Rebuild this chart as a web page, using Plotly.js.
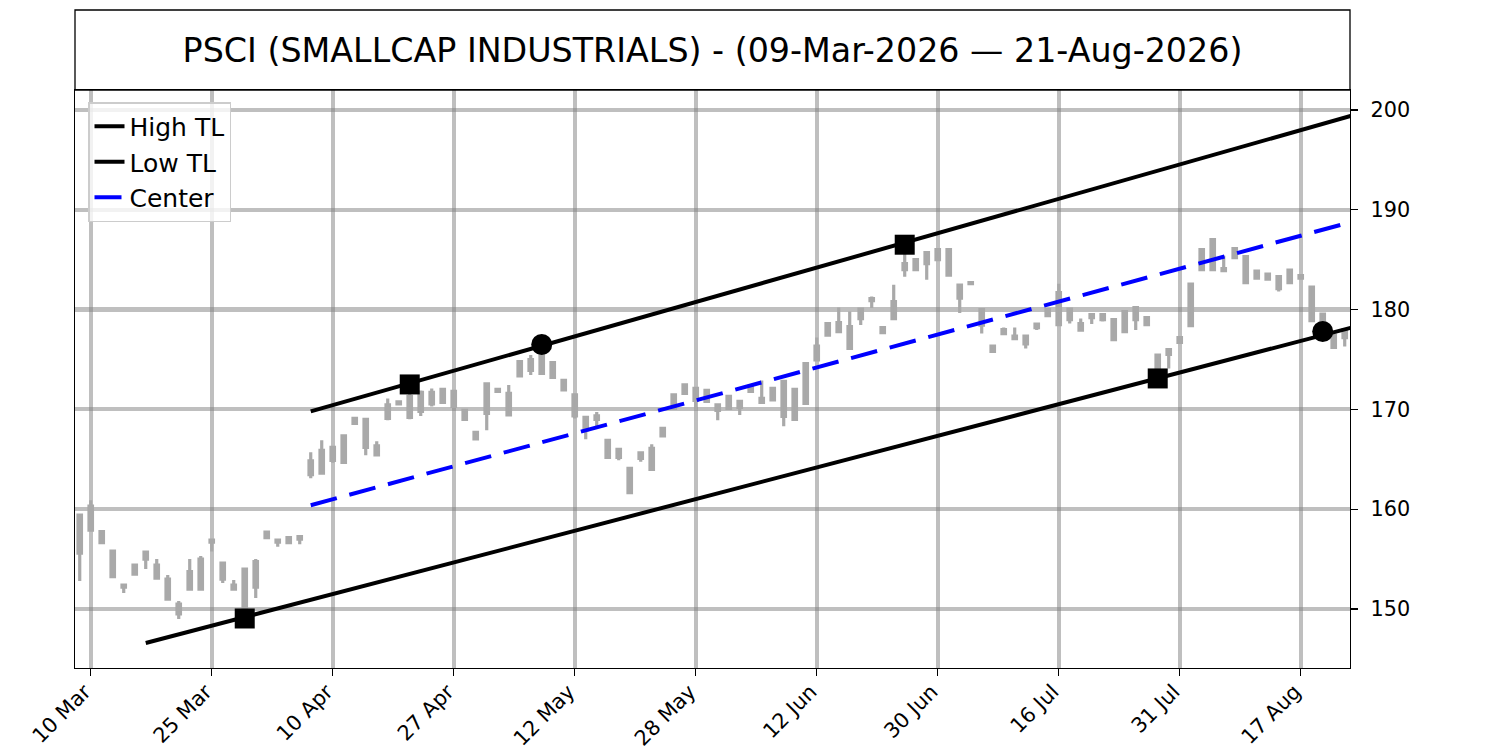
<!DOCTYPE html>
<html>
<head>
<meta charset="utf-8">
<script src="https://cdn.plot.ly/plotly-3.0.1.min.js"></script>
<style>
  html, body { margin: 0; padding: 0; background: #ffffff; }
  #chart { width: 1500px; height: 750px; }
</style>
</head>
<body>
<div id="chart"></div>
<script>
// ---- Data ----
// Trading-day index 0..115 (09-Mar-2026 .. 21-Aug-2026)
const openVals = [159.4,157.9,157.75,155.8,152.4,153.5,155.0,154.4,153.0,150.5,152.0,152.0,156.7,154.6,152.4,154.0,152.2,157.15,156.9,156.65,157.0,
  163.45,163.6,164.9,164.7,168.6,169.0,166.35,169.1,170.55,171.3,169.8,170.55,170.7,171.8,169.9,167.7,169.6,171.8,171.6,
  173.35,173.9,173.6,174.7,172.9,171.45,169.2,169.0,166.9,166.0,164.1,165.1,166.1,167.35,170.1,171.6,172.1,171.9,170.45,170.1,
  170.8,171.8,171.1,170.95,172.8,172.0,170.6,174.95,177.45,177.8,178.3,179.1,180.9,178.2,179.1,184.0,184.0,184.6,185.0,186.0,
  182.45,182.6,180.0,176.35,177.6,177.35,177.35,178.2,179.4,178.5,180.05,178.6,179.2,179.5,179.0,177.8,179.0,179.2,175.45,175.5,
  176.7,178.4,184.0,184.0,184.1,185.2,185.3,183.85,183.55,183.3,182.7,183.4,182.25,179.55,177.45,177.2];
const highVals = [159.4,160.9,157.75,155.8,152.4,154.5,155.7,155.0,153.4,150.8,155.0,155.3,156.9,154.6,152.9,154.0,155.0,157.7,156.9,157.2,157.25,
  165.7,166.9,166.2,167.35,169.1,169.0,166.8,171.1,170.75,172.3,171.9,172.1,172.0,171.8,169.9,167.7,172.55,172.0,172.45,
  174.8,175.45,176.6,174.7,172.9,171.45,169.2,169.75,166.9,166.0,164.1,165.65,166.5,168.1,171.45,172.45,172.1,171.95,170.45,171.3,
  170.8,172.3,172.9,172.1,172.8,172.0,174.6,177.2,178.6,180.2,179.8,180.05,181.3,178.2,182.5,186.5,185.0,185.7,186.0,186.0,
  182.45,182.7,180.0,176.35,178.2,178.2,177.35,178.55,180.0,182.6,180.05,179.1,179.5,179.5,179.0,179.8,180.2,179.2,175.45,176.0,
  177.2,182.55,186.0,187.0,185.4,186.1,185.3,183.85,183.55,183.3,183.95,183.4,182.25,179.55,177.45,178.0];
const lowVals = [152.8,157.9,156.65,153.25,151.6,153.4,154.0,153.1,151.0,149.0,152.0,152.0,155.75,152.6,152.0,148.9,151.1,157.15,156.25,156.6,156.5,
  163.1,163.6,164.65,164.7,168.6,165.4,165.45,168.9,170.55,169.0,169.35,170.3,170.7,170.3,169.0,167.05,167.9,171.8,169.35,
  173.35,173.45,173.6,173.2,171.95,169.1,167.0,168.2,165.2,164.9,161.65,164.75,164.0,167.35,170.1,171.6,169.9,170.8,168.9,170.1,
  169.45,171.8,170.7,170.95,168.3,169.0,170.6,174.95,177.45,177.8,176.1,178.45,180.15,177.7,179.1,183.3,184.0,183.0,185.0,183.45,
  179.65,182.6,177.6,175.8,177.6,177.1,176.1,177.95,179.4,178.5,178.6,177.95,178.55,178.8,177.0,177.8,177.95,178.5,173.0,174.1,
  176.7,178.4,184.0,184.0,183.9,185.2,182.7,183.15,183.05,181.8,182.7,183.15,178.9,177.95,176.2,176.3];
const closeVals = [155.6,160.3,156.65,153.25,152.2,154.4,155.7,153.1,151.0,149.5,153.75,155.0,156.9,153.0,152.0,150.1,154.75,157.7,156.7,157.15,157.25,
  164.85,165.9,166.2,167.35,169.1,166.2,165.45,170.45,170.75,169.2,171.7,171.7,172.0,170.3,169.0,167.05,172.55,172.0,169.45,
  174.8,175.0,175.8,173.2,171.95,169.35,167.95,169.35,165.2,165.2,161.65,165.65,164.0,168.1,171.45,172.45,170.9,170.8,169.9,171.3,
  170.2,172.3,170.7,172.1,169.3,169.0,174.6,176.35,178.6,178.7,176.1,180.05,181.1,177.7,180.8,184.6,185.0,185.7,186.0,183.45,
  181.15,182.7,178.45,175.8,178.0,177.1,176.55,178.55,180.0,181.7,179.0,177.95,179.5,179.0,177.0,179.8,180.2,178.5,173.2,176.0,
  177.2,182.55,186.0,187.0,183.9,186.1,182.7,183.15,183.05,182.1,183.95,183.15,178.9,177.95,176.2,178.0];

// x-axis tick labels (trading-day index -> date label)
const tickIdx = [1, 12, 23, 34, 45, 56, 67, 78, 89, 100, 111];
const tickLabels = ['10 Mar','25 Mar','10 Apr','27 Apr','12 May','28 May','12 Jun','30 Jun','16 Jul','31 Jul','17 Aug'];

// Trend lines (index, price)
const highTLx = [21, 116];
const highTLy = [169.8, 199.55];
const lowTLx = [6, 116];
const lowTLy = [146.6, 178.3];
const centerX = [21, 116];
const centerY = [160.4, 188.9];

// Pivot markers
const squareX = [15, 30, 75, 98];
const squareY = [149.05, 172.5, 186.5, 173.1];
const circleX = [42, 113];
const circleY = [176.5, 177.8];

const titleText = 'PSCI (SMALLCAP INDUSTRIALS) - (09-Mar-2026 — 21-Aug-2026)';

// ---- Build chart ----
const idx = openVals.map((_, i) => i);
const GRAY = '#a9a9a9';
const FONT = 'DejaVu Sans, Liberation Sans, sans-serif';

const traces = [
  {
    type: 'candlestick',
    x: idx, open: openVals, high: highVals, low: lowVals, close: closeVals,
    increasing: { line: { color: GRAY, width: 3.2 }, fillcolor: GRAY },
    decreasing: { line: { color: GRAY, width: 3.2 }, fillcolor: GRAY },
    whiskerwidth: 0,
    showlegend: false,
    hoverinfo: 'skip'
  },
  {
    type: 'scatter', mode: 'lines', name: 'High TL',
    x: highTLx, y: highTLy,
    line: { color: '#000000', width: 4 }
  },
  {
    type: 'scatter', mode: 'lines', name: 'Low TL',
    x: lowTLx, y: lowTLy,
    line: { color: '#000000', width: 4 }
  },
  {
    type: 'scatter', mode: 'lines', name: 'Center',
    x: centerX, y: centerY,
    line: { color: '#0000ff', width: 4, dash: '27px,13px' }
  },
  {
    type: 'scatter', mode: 'markers', showlegend: false,
    x: squareX, y: squareY,
    marker: { symbol: 'square', size: 20, color: '#000000' },
    cliponaxis: false
  },
  {
    type: 'scatter', mode: 'markers', showlegend: false,
    x: circleX, y: circleY,
    marker: { symbol: 'circle', size: 21, color: '#000000' },
    cliponaxis: false
  }
];

const plotTop = 90, plotBottom = 668;
const plotH = plotBottom - plotTop;

const layout = {
  width: 1500, height: 750,
  margin: { l: 75, r: 150, t: plotTop, b: 750 - plotBottom, pad: 0 },
  paper_bgcolor: '#ffffff', plot_bgcolor: '#ffffff',
  font: { family: FONT, color: '#000000', size: 20.8 },
  boxgap: 0.55,
  showlegend: true,
  title: {
    text: titleText,
    font: { family: FONT, size: 33.3, color: '#000000' },
    x: 0.5, xref: 'paper', xanchor: 'center',
    y: 1 - 50 / 750, yref: 'container', yanchor: 'middle'
  },
  xaxis: {
    range: [-0.43, 115.48],
    rangeslider: { visible: false },
    tickmode: 'array', tickvals: tickIdx, ticktext: tickLabels,
    tickangle: -45,
    ticklabelshift: -6,
    ticklabelstandoff: -5,
    ticks: 'outside', ticklen: 7, tickwidth: 1.3, tickcolor: '#000000',
    showgrid: true, gridcolor: 'rgba(128,128,128,0.5)', gridwidth: 4.2,
    showline: true, linecolor: '#000000', linewidth: 1.3, mirror: true,
    zeroline: false,
    tickfont: { family: FONT, size: 20.8, color: '#000000' }
  },
  yaxis: {
    range: [144.09, 202.0],
    side: 'right',
    tickmode: 'linear', tick0: 150, dtick: 10,
    ticks: 'outside', ticklen: 7, tickwidth: 1.3, tickcolor: '#000000',
    ticklabelstandoff: 8,
    showgrid: true, gridcolor: 'rgba(128,128,128,0.5)', gridwidth: 4.2,
    showline: true, linecolor: '#000000', linewidth: 1.3, mirror: true,
    zeroline: false,
    tickfont: { family: FONT, size: 20.8, color: '#000000' }
  },
  legend: {
    x: 13 / 1275, xanchor: 'left',
    y: 1 - 12 / plotH, yanchor: 'top',
    bgcolor: 'rgba(255,255,255,0.8)',
    bordercolor: '#cccccc', borderwidth: 1.5,
    font: { family: FONT, size: 25, color: '#000000' },
    itemwidth: 30,
    traceorder: 'normal'
  },
  shapes: [
    {
      type: 'rect', xref: 'paper', yref: 'paper',
      x0: 0, x1: 1, y0: 1, y1: 1 + 80 / plotH,
      line: { color: '#000000', width: 1.3 },
      fillcolor: 'rgba(0,0,0,0)', layer: 'above'
    }
  ]
};

Plotly.newPlot('chart', traces, layout, { staticPlot: true, displayModeBar: false });
</script>
</body>
</html>
